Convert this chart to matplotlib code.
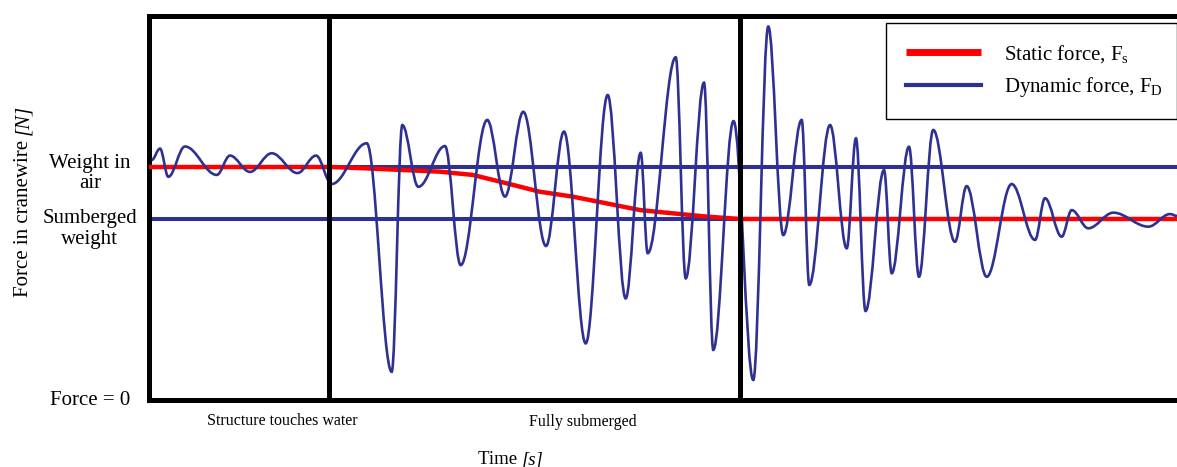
import matplotlib
matplotlib.use("Agg")
import matplotlib.pyplot as plt
from matplotlib.path import Path
from matplotlib.patches import PathPatch
from matplotlib.lines import Line2D
import matplotlib.transforms as mtransforms

plt.rcParams['font.family'] = 'Liberation Serif'
plt.rcParams['mathtext.fontset'] = 'custom'
plt.rcParams['mathtext.rm'] = 'Liberation Serif'
plt.rcParams['mathtext.it'] = 'Liberation Serif:italic'

# event times (s)
touch_t = 17.5
submerged_t = 57.5
event_labels = ["Structure touches water", "Fully submerged"]

# force levels (relative to weight in air)
weight_air = 1.0
weight_sub = 0.777
ytick_vals = [0.0, weight_sub, weight_air]
ytick_labels = ["Force = 0", "Sumberged\nweight", "Weight in\nair"]

# dynamic force: turning points
dyn_t = [0.26, 1.07, 1.88, 3.50, 6.59, 7.88, 9.82, 11.94, 14.45, 16.25,
         17.77, 21.18, 23.61, 24.64, 26.20, 28.79, 30.32, 32.90, 34.63, 36.41,
         38.62, 40.37, 42.48, 44.62, 46.37, 47.83, 48.51, 51.24, 52.21, 53.99,
         54.89, 56.86, 58.78, 60.24, 61.70, 63.49, 64.23, 66.25, 67.87, 68.77,
         69.70, 71.50, 72.25, 73.93, 74.90, 76.29, 78.40, 79.54, 81.49, 83.92,
         86.19, 87.16, 88.78, 89.76, 91.37, 93.81, 97.21, 99.32, 100.0]
dyn_f = [1.030, 1.079, 0.958, 1.088, 0.966, 1.049, 0.979, 1.059, 0.974, 1.049,
         0.927, 1.102, 0.121, 1.180, 0.915, 1.090, 0.579, 1.202, 0.873, 1.237,
         0.661, 1.152, 0.243, 1.309, 0.436, 1.061, 0.630, 1.471, 0.522, 1.362,
         0.215, 1.197, 0.086, 1.603, 0.708, 1.202, 0.494, 1.180, 0.651, 1.123,
         0.382, 0.987, 0.544, 1.087, 0.529, 1.159, 0.679, 0.918, 0.529, 0.927,
         0.687, 0.866, 0.701, 0.815, 0.737, 0.804, 0.744, 0.798, 0.790]

# static force
stat_t = [0, 17.8, 21.2, 28.3, 31.5, 34.8, 38.0, 41.2, 44.5, 47.8, 51.0, 54.3, 57.5, 100]
stat_f = [1.0, 1.0, 0.994, 0.980, 0.966, 0.930, 0.894, 0.873, 0.844, 0.815,
          0.801, 0.787, 0.777, 0.777]

blue = '#2e3192'
red = '#ff0000'

fig = plt.figure(figsize=(11.77, 4.67), dpi=100)
ax = fig.add_axes([149 / 1177, 67 / 467, 1028 / 1177, 384.2 / 467])
ax.set_xlim(0, 100)
ax.set_ylim(0, 1.649)

# reference levels
ax.hlines(weight_air, touch_t, 100, color=blue, lw=2.9, zorder=2)
ax.hlines(weight_sub, 0, submerged_t, color=blue, lw=2.9, zorder=2)

static_line, = ax.plot(stat_t, stat_f, color=red, lw=3.2, zorder=3,
                       solid_capstyle='butt')

# dynamic force as smooth curve through turning points
k = 0.363
verts = [(dyn_t[0], dyn_f[0])]
codes = [Path.MOVETO]
for i in range(len(dyn_t) - 1):
    dx = dyn_t[i + 1] - dyn_t[i]
    verts += [(dyn_t[i] + k * dx, dyn_f[i]),
              (dyn_t[i + 1] - k * dx, dyn_f[i + 1]),
              (dyn_t[i + 1], dyn_f[i + 1])]
    codes += [Path.CURVE4] * 3
ax.add_patch(PathPatch(Path(verts, codes), fill=False, edgecolor=blue,
                       lw=1.9, zorder=4))

for t in (touch_t, submerged_t):
    ax.axvline(t, color='black', lw=3.6, zorder=5)

for s in ('left', 'top', 'bottom'):
    ax.spines[s].set_linewidth(3.6)
ax.spines['right'].set_visible(False)

ax.set_xticks([])
ax.set_yticks(ytick_vals)
ax.set_yticklabels(ytick_labels, fontsize=15, ha='center', linespacing=1.1)
ax.tick_params(axis='y', length=0, pad=42.5)
offsets = [2, -7, -3]
for lab, off in zip(ax.get_yticklabels(), offsets):
    lab.set_transform(lab.get_transform() +
                      mtransforms.ScaledTranslation(0, off / 100, fig.dpi_scale_trans))

ax.annotate(event_labels[0], xy=(touch_t, 0), xytext=(-46.5, -21),
            textcoords='offset pixels', ha='center', va='center', fontsize=11.5,
            annotation_clip=False)
ax.annotate(event_labels[1], xy=(submerged_t, 0), xytext=(-157.5, -22),
            textcoords='offset pixels', ha='center', va='center', fontsize=11.5,
            annotation_clip=False)

renderer = fig.canvas.get_renderer()

# x label: "Time [s]" with italic unit
xl1 = fig.text(478 / 1177, 2.5 / 467, "Time ", ha='left', va='baseline',
               fontsize=13.5)
ext = xl1.get_window_extent(renderer)
fig.text(ext.x1 / fig.bbox.width, 2.5 / 467, "[s]", ha='left', va='baseline',
         fontsize=13.5, style='italic')

# y label: "Force in cranewire [N]" with italic unit
yl1 = fig.text(28 / 1177, 1 - 297 / 467, "Force in cranewire ", rotation=90,
               rotation_mode='anchor', ha='left', va='baseline', fontsize=15)
ext = yl1.get_window_extent(renderer)
fig.text(28 / 1177, ext.y1 / fig.bbox.height, "[N]", rotation=90,
         rotation_mode='anchor', ha='left', va='baseline', fontsize=15,
         style='italic')

dyn_proxy = Line2D([], [], color=blue, lw=3)
leg = ax.legend([static_line, dyn_proxy],
                [r"Static force, F$_\mathrm{s}$", r"Dynamic force, F$_\mathrm{D}$"],
                loc='upper left', bbox_to_anchor=(0.717, 0.763, 0.283, 0.218),
                mode='expand', borderaxespad=0, fontsize=15, handlelength=3.6,
                handletextpad=1.1, borderpad=0.95, labelspacing=0.5,
                fancybox=False, framealpha=1, edgecolor='black')
leg.get_frame().set_linewidth(1.0)
leg.get_lines()[0].set_linewidth(5)
leg.get_lines()[1].set_linewidth(3)

fig.savefig("out.png", dpi=100)
